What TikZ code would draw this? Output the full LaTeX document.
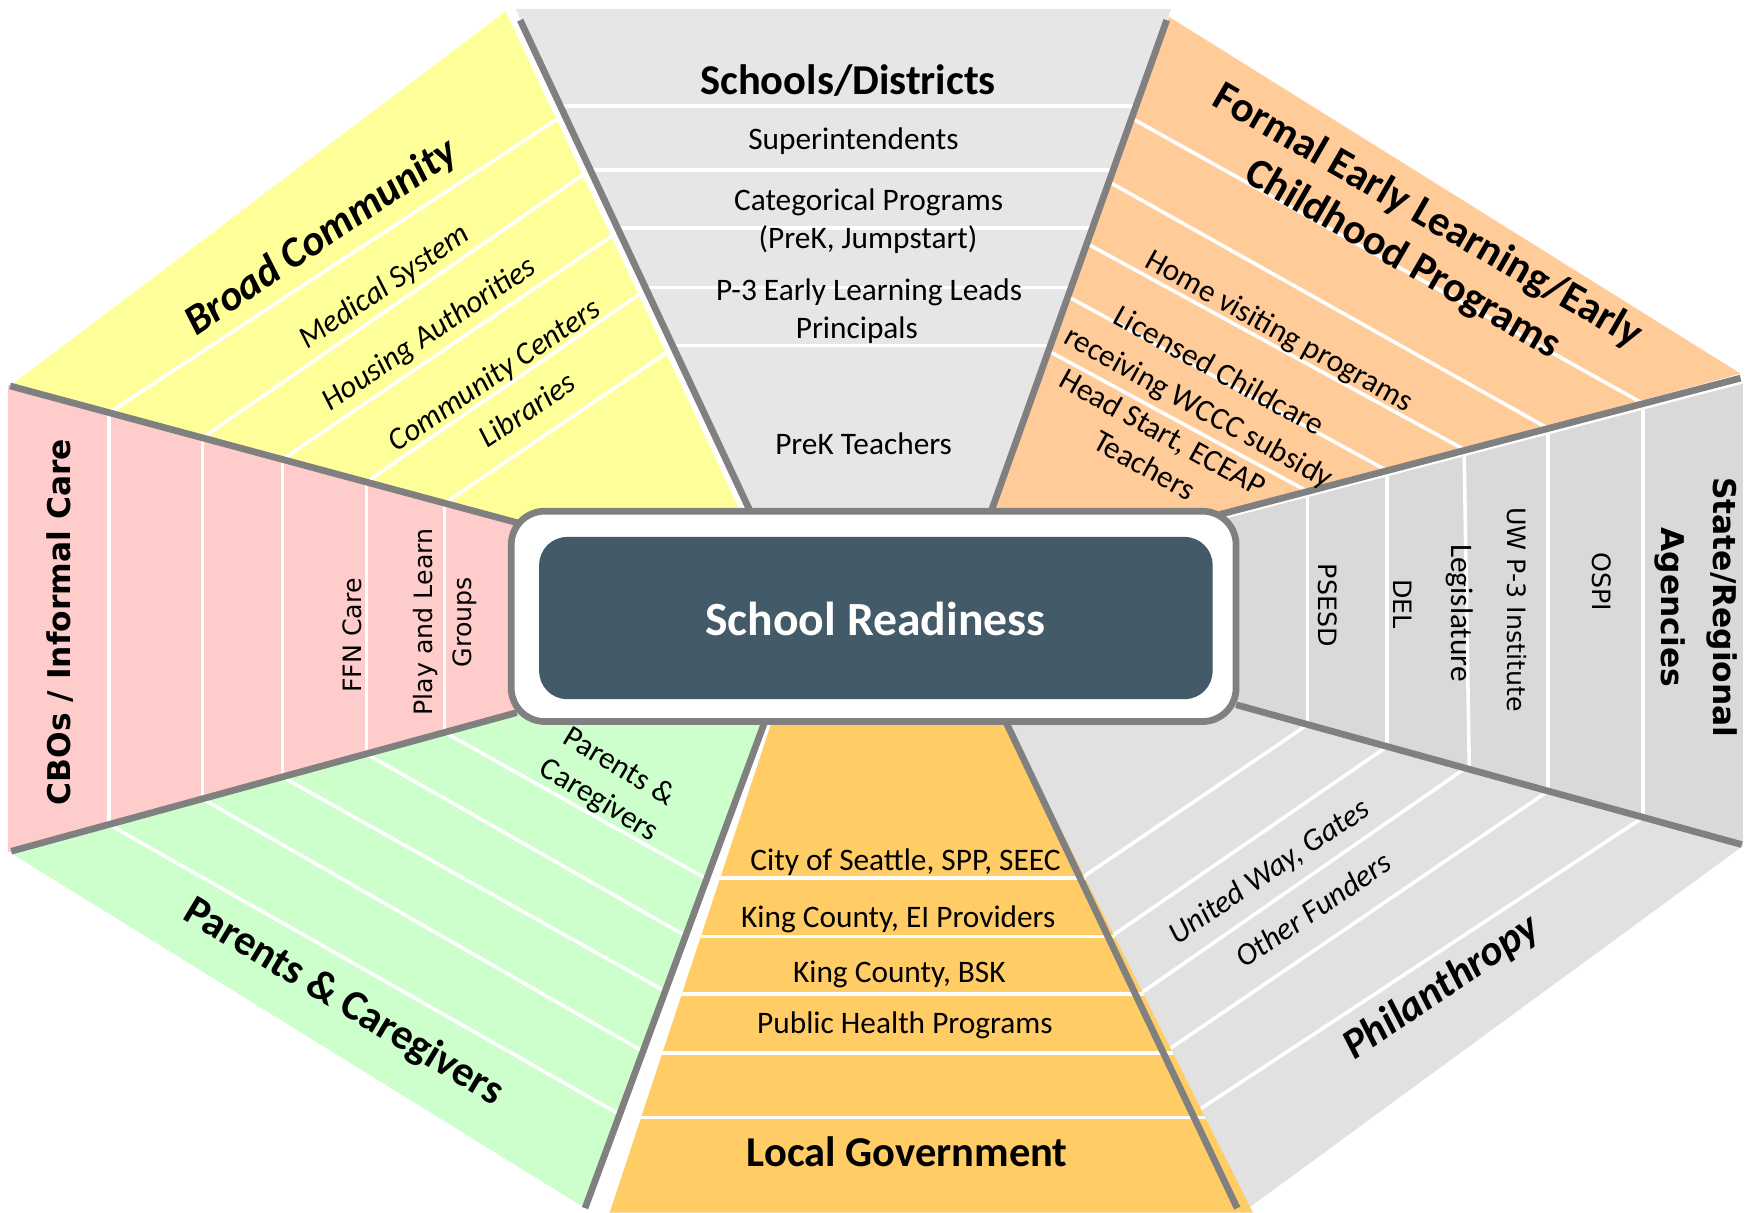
\documentclass[tikz,border=0pt]{standalone}
\usepackage{fontspec}
\setmainfont{Carlito}
\newfontfamily\dvfont{DejaVu Sans}
\usetikzlibrary{calc}
\definecolor{cyel}{HTML}{FFFF99}
\definecolor{cschool}{HTML}{E6E6E6}
\definecolor{corange}{HTML}{FFCC99}
\definecolor{cstate}{HTML}{D9D9D9}
\definecolor{cphil}{HTML}{E1E1E1}
\definecolor{cgov}{HTML}{FFCC66}
\definecolor{cgreen}{HTML}{CCFFCC}
\definecolor{cpink}{HTML}{FFCCCC}
\definecolor{csep}{HTML}{808080}
\definecolor{cbox}{HTML}{435A69}
\begin{document}
\begin{tikzpicture}[x=0.5pt,y=-0.5pt,
  sepline/.style={draw=csep,line width=3pt},
  wl/.style={draw=white,line width=1.6pt},
  reg/.style={inner sep=0pt,font=\fontsize{14}{17}\selectfont},
  regit/.style={inner sep=0pt,font=\fontsize{14}{17}\selectfont\itshape},
  ttl/.style={inner sep=0pt,font=\fontsize{19}{22.3}\selectfont\bfseries},
  ttlit/.style={inner sep=0pt,font=\fontsize{19}{22.3}\selectfont\bfseries\itshape},
  dvr/.style={inner sep=0pt,font=\dvfont\fontsize{11.3}{17.5}\selectfont},
  dvb/.style={inner sep=0pt,font=\dvfont\bfseries\fontsize{14}{23.5}\selectfont},
]
\useasboundingbox (0,0) rectangle (1568,1083.5);

% ---------- Broad Community (yellow)
\begin{scope}
\clip (9,345) -- (452,10) -- (664,462) -- (465,468) -- cycle;
\fill[cyel] (0,0) rectangle (800,600);
\foreach \ax/\ay/\bx/\by in {97.5/368.9/497/107, 181/391.4/515/160.5, 252.5/410.7/540/215.7, 327.5/430.9/567.5/265.8, 397.5/449.8/592.5/317.6}
  \draw[wl] ($(\ax,\ay)!-0.1!(\bx,\by)$) -- ($(\ax,\ay)!1.2!(\bx,\by)$);
\end{scope}

% ---------- CBOs (pink)
\begin{scope}
\clip (465,468) -- (7,344) -- (7,762) -- (462,637) -- cycle;
\fill[cpink] (0,300) rectangle (500,800);
\foreach \xx in {97.5,181,252.5,327.5,397.5}
  \draw[wl] (\xx,300) -- (\xx,800);
\end{scope}

% ---------- Parents (green)
\begin{scope}
\clip (462,637) -- (685,645) -- (523,1080) -- (12,764) -- cycle;
\fill[cgreen] (0,600) rectangle (700,1090);
\foreach \ax/\ay/\bx/\by in {97.5/737/550/994, 181/714.1/570/937.2, 252.5/694.5/590/883.5, 327.5/673.9/610/835, 397.5/654.7/627.5/783.3}
  \draw[wl] ($(\ax,\ay)!-0.1!(\bx,\by)$) -- ($(\ax,\ay)!1.2!(\bx,\by)$);
\end{scope}

% ---------- Schools (gray)
\begin{scope}
\clip (461,8) -- (1047,8) -- (885,460) -- (672,460) -- cycle;
\fill[cschool] (400,0) rectangle (1100,470);
\foreach \yy in {95,152,204,257,309}
  \draw[wl] (400,\yy) -- (1100,\yy);
\end{scope}

% ---------- Formal EL (orange)
\begin{scope}
\clip (1045,15) -- (1556,334) -- (1090,460) -- (885,460) -- cycle;
\fill[corange] (850,0) rectangle (1568,470);
\foreach \ax/\ay/\bx/\by in {1014/107/1469/360.8, 994/164/1384/383, 974/219/1310/402.4, 959/267.5/1240/420.7, 941.5/316/1169/439.3}
  \draw[wl] ($(\ax,\ay)!-0.2!(\bx,\by)$) -- ($(\ax,\ay)!1.1!(\bx,\by)$);
\end{scope}

% ---------- State/Regional (gray)
\begin{scope}
\clip (1090,465) -- (1558,343) -- (1558,757) -- (1105,630) -- cycle;
\fill[cstate] (1050,300) rectangle (1568,800);
\foreach \xx in {1169,1240,1384,1469}
  \draw[wl] (\xx,300) -- (\xx,800);
\draw[wl] (1308.5,380) -- (1314,720);
\end{scope}

% ---------- Philanthropy (gray)
\begin{scope}
\clip (1105,630) -- (1557,757) -- (1112,1083) -- (900,647) -- cycle;
\fill[cphil] (880,600) rectangle (1568,1090);
\foreach \ax/\ay/\bx/\by in {1169/647.7/974/780, 1240/667.3/996.5/835, 1310/686.7/1024/885, 1384/707.1/1044/938.7, 1469/730.6/1069/994}
  \draw[wl] ($(\ax,\ay)!-0.1!(\bx,\by)$) -- ($(\ax,\ay)!1.2!(\bx,\by)$);
\end{scope}

% ---------- Local Government (gold)
\begin{scope}
\clip (690,645) -- (900,645) -- (1120,1084) -- (545,1084) -- cycle;
\fill[cgov] (500,640) rectangle (1130,1090);
\foreach \yy in {785,837,888.6,941.4,999}
  \draw[wl] (500,\yy) -- (1130,\yy);
\end{scope}

% ---------- separators
\draw[sepline] (672,460) -- (465,18);
\draw[sepline] (885,460) -- (1043,18);
\draw[sepline] (1090,460) -- (1556,338);
\draw[sepline] (1105,630) -- (1557,755);
\draw[sepline] (900,647) -- (1106,1080);
\draw[sepline] (683,647) -- (523,1080);
\draw[sepline] (462,637) -- (10,761);
\draw[sepline] (465,468) -- (9,345);

% ---------- centre
\draw[draw=csep,line width=3pt,fill=white,rounded corners=15pt] (457,457) rectangle (1105,645);
\fill[cbox,rounded corners=12.5pt] (482,480) rectangle (1084,625);
\node[inner sep=0pt,text=white,font=\fontsize{21.3}{25}\selectfont\bfseries] (sr) at (782.5,553) {School Readiness};

% ---------- Broad Community texts
\node[ttlit,rotate=34] (bc) at (287.5,212.5) {Broad Community};
\node[regit,rotate=34] (ms) at (344,257) {Medical System};
\node[regit,rotate=34] (ha) at (384,299.5) {Housing Authorities};
\node[regit,rotate=34] (cc) at (442.5,336.5) {Community Centers};
\node[regit,rotate=34] (lib) at (471,366) {Libraries};

% ---------- Schools texts
\node[ttl] (sd) at (758,72) {Schools/Districts};
\node[reg] (sup) at (763,126) {Superintendents};
\node[reg] (cat) at (776.5,181) {Categorical Programs};
\node[reg] (pj) at (776,214) {(PreK, Jumpstart)};
\node[reg] (p3) at (777,261) {P-3 Early Learning Leads};
\node[reg] (pri) at (766,295) {Principals};
\node[reg] (pkt) at (772,397) {PreK Teachers};

% ---------- Formal EL texts
\node[ttl,rotate=-30,align=center] (fel) at (1265,213) {Formal Early Learning/Early\\Childhood Programs};
\node[reg,rotate=-29] (hv) at (1143,297) {Home visiting programs};
\node[reg,rotate=-29,align=center,font=\fontsize{14}{18.6}\selectfont] (lc) at (1080,349) {Licensed Childcare\\receiving WCCC subsidy};
\node[reg,rotate=-29,align=center,font=\fontsize{14}{16.8}\selectfont] (hs) at (1031.5,401) {Head Start, ECEAP\\Teachers};

% ---------- State texts
\node[dvr,rotate=-90] (psesd) at (1187,541) {PSESD};
\node[dvr,rotate=-90] (del) at (1254,540) {DEL};
\node[reg,rotate=-90] (leg) at (1305,548) {Legislature};
\node[dvr,rotate=-90] (uw) at (1356,545) {UW P-3 Institute};
\node[dvr,rotate=-90] (ospi) at (1432,520) {OSPI};
\node[dvb,rotate=-90,align=center] (sra) at (1516,543) {State/Regional\\Agencies};

% ---------- Philanthropy texts
\node[regit,rotate=34] (uwg) at (1135,780) {United Way, Gates};
\node[regit,rotate=34] (ofu) at (1174,813) {Other Funders};
\node[ttlit,rotate=34] (phil) at (1289,883) {Philanthropy};

% ---------- Local Government texts
\node[reg] (city) at (809.5,771) {City of Seattle, SPP, SEEC};
\node[reg] (kc1) at (803,822) {King County, EI Providers};
\node[reg] (kc2) at (804,871) {King County, BSK};
\node[reg] (phl) at (809,917) {Public Health Programs};
\node[ttl] (lg) at (811,1030) {Local Government};

% ---------- Parents texts
\node[ttl,rotate=-31] (pc) at (307,896) {Parents \& Caregivers};
\node[reg,rotate=-31,align=center,font=\fontsize{14}{17.5}\selectfont] (pc2) at (544,701) {Parents \&\\Caregivers};

% ---------- CBO texts
\node[dvb,rotate=90] (cbo) at (54,556) {CBOs / Informal Care};
\node[dvr,rotate=90] (ffn) at (315,568) {FFN Care};
\node[dvr,rotate=90,align=center] (pl) at (398,556) {Play and Learn\\Groups};
\end{tikzpicture}
\end{document}
